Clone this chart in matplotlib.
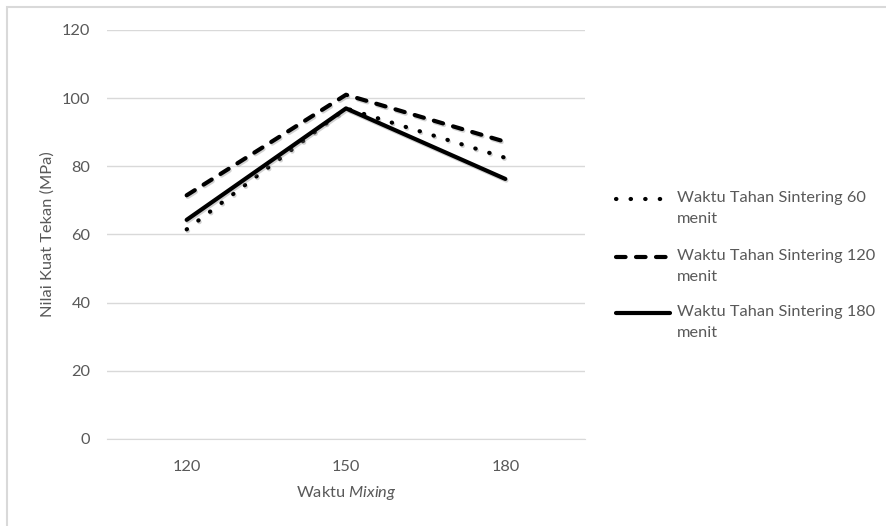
import matplotlib
matplotlib.use("Agg")
import matplotlib.pyplot as plt
import matplotlib.patheffects as pe
from matplotlib.lines import Line2D
from matplotlib.patches import Rectangle

plt.rcParams['font.family'] = ['Lato', 'DejaVu Sans']
plt.rcParams['mathtext.fontset'] = 'custom'
plt.rcParams['mathtext.rm'] = 'Lato'
plt.rcParams['mathtext.it'] = 'Lato:italic'

# data
waktu_mixing = ['120', '150', '180']
sinter_60 = [61.5, 97, 82.5]
sinter_120 = [71.5, 101, 87.2]
sinter_180 = [64.3, 97, 76.3]
labels = ['Waktu Tahan Sintering 60\nmenit',
          'Waktu Tahan Sintering 120\nmenit',
          'Waktu Tahan Sintering 180\nmenit']

TXT = '#595959'
GRID = '#d9d9d9'
W, H = 887, 526
FS = 11.8
LW = 3.0

fig = plt.figure(figsize=(W / 100, H / 100), dpi=100)
# chart frame (only top/left edges visible)
fig.add_artist(Rectangle((7 / W, -0.05), 1.1, 1 - 7 / H + 0.05,
                         transform=fig.transFigure, fill=False,
                         edgecolor=GRID, lw=1.5))

ax = fig.add_axes([107 / W, 1 - 439 / H, 478 / W, 409 / H])

styles = [
    dict(linestyle=(0, (0.1, 3.4)), dash_capstyle='round'),
    dict(linestyle=(0, (2.3, 2.5)), dash_capstyle='round'),
    dict(linestyle='-', solid_capstyle='round'),
]
series = [sinter_60, sinter_120, sinter_180]
shadow = [pe.SimpleLineShadow(offset=(0.8, -1.2), shadow_color='#808080', alpha=0.35),
          pe.Normal()]

x = range(len(waktu_mixing))
for vals, st in zip(series, styles):
    ax.plot(x, vals, color='black', lw=LW, path_effects=shadow, **st)

ax.set_xlim(-0.5, 2.5)
ax.set_ylim(0, 120)
ax.set_yticks(range(0, 121, 20))
ax.set_xticks(list(x))
ax.set_xticklabels(waktu_mixing)
ax.yaxis.grid(True, color=GRID, lw=1)
ax.set_axisbelow(True)
for s in ['top', 'right', 'left']:
    ax.spines[s].set_visible(False)
ax.spines['bottom'].set_color(GRID)
ax.tick_params(length=0, labelsize=FS, colors=TXT)
ax.tick_params(axis='y', pad=12)
ax.tick_params(axis='x', pad=15)

ax.set_ylabel('Nilai Kuat Tekan (MPa)', fontsize=FS, color=TXT, labelpad=5)
ax.set_xlabel(r'Waktu $\mathit{Mixing}$', fontsize=FS, color=TXT, labelpad=7)

# legend drawn beside the plot
rows_y = [199, 257, 313]
for ly, st, lab in zip(rows_y, styles, labels):
    fig.add_artist(Line2D([616 / W, 670 / W], [1 - ly / H, 1 - ly / H],
                          transform=fig.transFigure, color='black', lw=LW, **st))
    fig.text(677 / W, 1 - (ly - 8) / H, lab, fontsize=FS, color=TXT,
             va='top', ha='left', linespacing=1.6)

fig.savefig('out.png', dpi=100)
